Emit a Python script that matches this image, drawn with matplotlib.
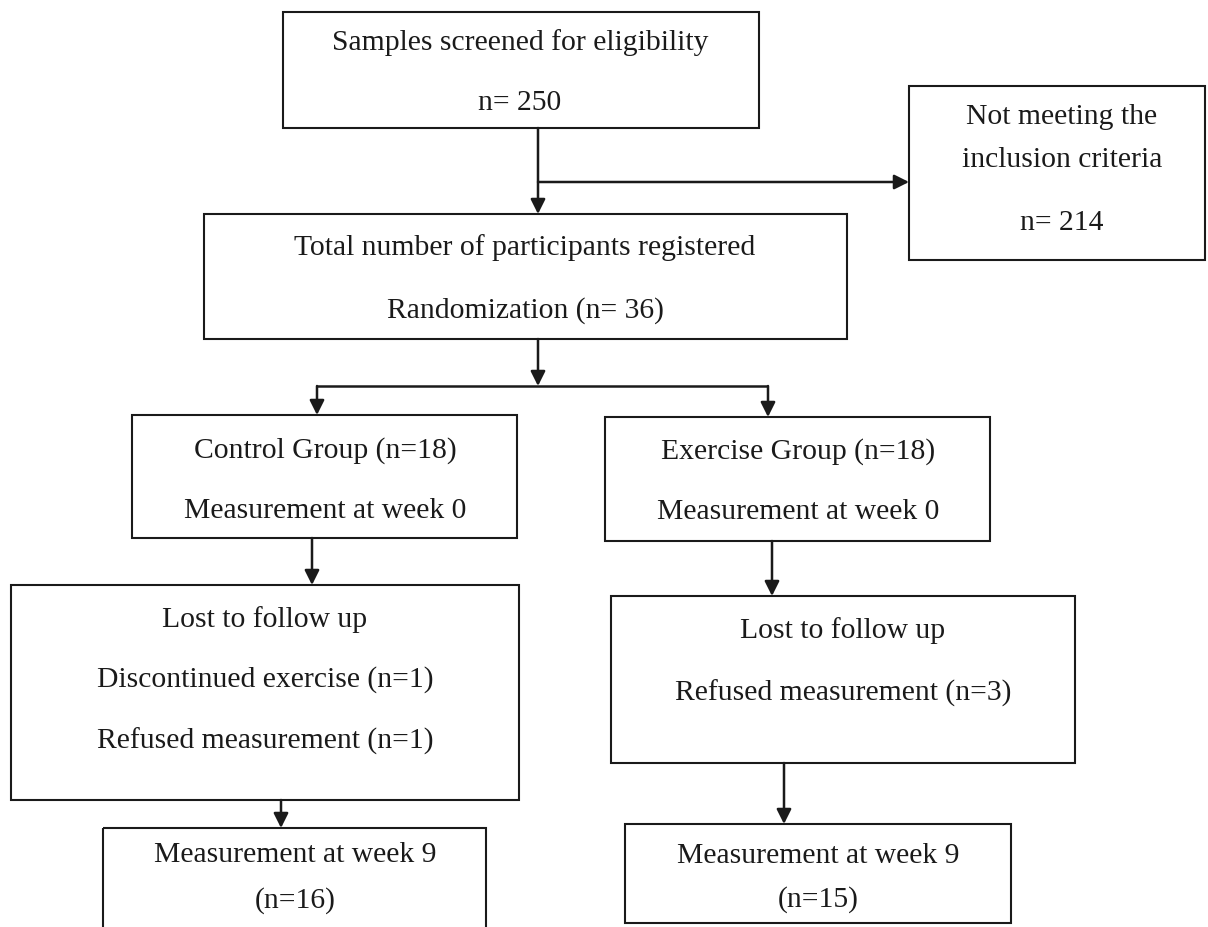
import matplotlib
matplotlib.use('Agg')
import matplotlib.pyplot as plt
from matplotlib.patches import Rectangle, FancyArrowPatch

plt.rcParams['font.family'] = ['Liberation Serif', 'DejaVu Serif']

# box texts (one list per box)
screened = ['Samples screened for eligibility', 'n= 250']
excluded = ['Not meeting the', 'inclusion criteria', 'n= 214']
registered = ['Total number of participants registered', 'Randomization (n= 36)']
control = ['Control Group (n=18)', 'Measurement at week 0']
exercise = ['Exercise Group (n=18)', 'Measurement at week 0']
lost_control = ['Lost to follow up', 'Discontinued exercise (n=1)', 'Refused measurement (n=1)']
lost_exercise = ['Lost to follow up', 'Refused measurement (n=3)']
final_control = ['Measurement at week 9', '(n=16)']
final_exercise = ['Measurement at week 9', '(n=15)']

# layout in pixels: box (x0, y0, x1, y1), text x centre, text line y centres
boxes = [
    (screened, (283, 12, 759, 128), 520, [40, 100]),
    (excluded, (909, 86, 1205, 260), 1062, [114, 157, 220]),
    (registered, (204, 214, 847, 339), 525, [245, 308]),
    (control, (132, 415, 517, 538), 325, [448, 508]),
    (exercise, (605, 417, 990, 541), 798, [449, 509]),
    (lost_control, (11, 585, 519, 800), 265, [617, 677, 738]),
    (lost_exercise, (611, 596, 1075, 763), 843, [628, 690]),
    (final_control, (103, 828, 486, 940), 295, [852, 898]),
    (final_exercise, (625, 824, 1011, 923), 818, [853, 897]),
]

arrows = [
    ((538, 128), (538, 214)),
    ((538, 182), (909, 182)),
    ((538, 339), (538, 386)),
    ((317, 386), (317, 415)),
    ((768, 386), (768, 417)),
    ((312, 538), (312, 585)),
    ((772, 541), (772, 596)),
    ((281, 800), (281, 828)),
    ((784, 763), (784, 824)),
]
lines = [((317, 386), (768, 386))]

ink = '#1a1a1a'
fig = plt.figure(figsize=(12.08, 9.27), dpi=100)
ax = fig.add_axes([0, 0, 1, 1])
ax.set_xlim(0, 1208)
ax.set_ylim(927, 0)
ax.axis('off')

for texts, (x0, y0, x1, y1), tx, ys in boxes:
    ax.add_patch(Rectangle((x0, y0), x1 - x0, y1 - y0, fill=False,
                           edgecolor=ink, linewidth=1.5))
    for t, y in zip(texts, ys):
        ax.text(tx, y + 3, t, ha='center', va='center', fontsize=21.3, color=ink)

for (xa, ya), (xb, yb) in lines:
    ax.plot([xa, xb], [ya, yb], color=ink, linewidth=1.8, solid_capstyle='butt')

for start, end in arrows:
    ax.add_patch(FancyArrowPatch(start, end, arrowstyle='-|>', mutation_scale=22,
                                 color=ink, linewidth=1.8, shrinkA=0, shrinkB=0))

fig.savefig('out.png', dpi=100)
